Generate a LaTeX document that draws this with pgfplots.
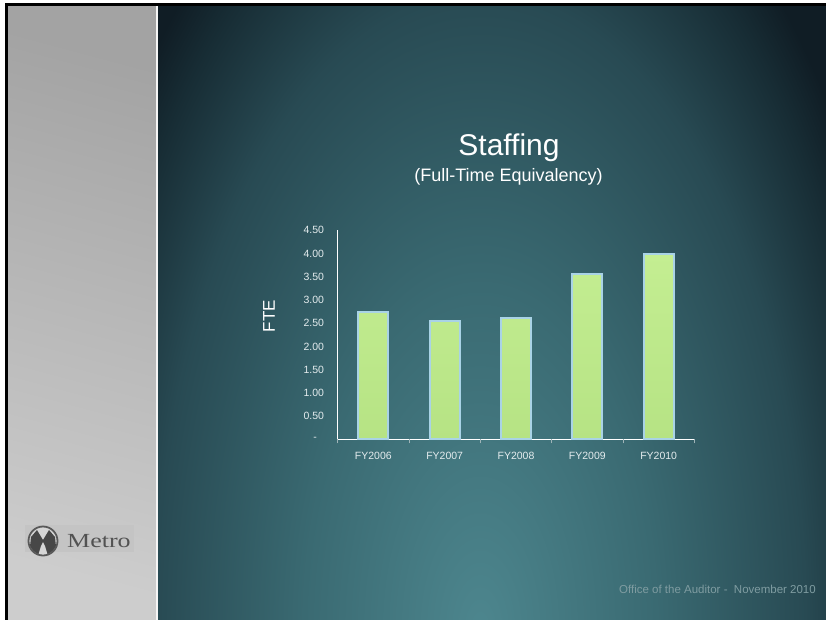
\documentclass[border=0pt]{standalone}
\usepackage{pgfplots}
\pgfplotsset{compat=1.18}
\usepackage{fontspec}
\setmainfont{Liberation Sans}
\newfontfamily\metrofont{Liberation Serif}

\definecolor{glow0}{HTML}{4D868E}
\definecolor{glow1}{HTML}{3A6A72}
\definecolor{glow2}{HTML}{284A53}
\definecolor{glow3}{HTML}{172C34}
\definecolor{glow4}{HTML}{101D25}
\definecolor{greyA}{HTML}{A3A3A3}
\definecolor{greyB}{HTML}{CDCDCD}
\definecolor{tickcol}{HTML}{E4ECEE}
\definecolor{footcol}{HTML}{7F9CA1}
\definecolor{barfill}{HTML}{C4EE92}
\definecolor{barfillD}{HTML}{B6E384}
\definecolor{baredge}{HTML}{A9D3E6}
\definecolor{sepcol}{HTML}{9FB4B8}

\pgfdeclareradialshading{bgglow}{\pgfpoint{0bp}{0bp}}{color(0bp)=(glow0); color(10bp)=(glow1); color(18.5bp)=(glow2); color(23bp)=(glow3); color(25bp)=(glow4); color(50bp)=(glow4)}

\pgfplotstableread{
x val
0 2.75
1 2.55
2 2.62
3 3.57
4 4.00
}\fte

\begin{document}
\begin{tikzpicture}
\useasboundingbox (0,0) rectangle (826bp,-620bp);
\clip (0,0) rectangle (826bp,-620bp);
% slide frame
\fill[white] (0,0) rectangle (826bp,-620bp);
\fill[black] (5bp,-3bp) rectangle (826bp,-620bp);
% left grey panel
\shade[top color=greyA, bottom color=greyB, shading angle=-15] (8bp,-6bp) rectangle (156bp,-620bp);
\fill[white!92!gray] (156bp,-6bp) rectangle (158bp,-620bp);
% dark panel with glow
\fill[glow4] (158bp,-6bp) rectangle (826bp,-620bp);
\begin{scope}
\clip (158bp,-6bp) rectangle (826bp,-620bp);
\shade[shading=bgglow] (480bp,-630bp) ellipse [x radius=440bp, y radius=860bp];
\end{scope}
% Metro logo
\fill[black!23] (25bp,-525bp) rectangle (134bp,-552bp);
\fill[black!16] (43bp,-541bp) circle (15bp);
\begin{scope}
\clip (43bp,-541bp) circle (14bp);
\fill[black!72] (29bp,-556bp) -- (31bp,-537bp) -- (37bp,-530bp) -- (43bp,-540bp) -- (49bp,-530bp) -- (55bp,-537bp) -- (57bp,-556bp) -- cycle;
\fill[black!16] (38bp,-556bp) -- (41bp,-546bp) -- (43bp,-542bp) -- (45bp,-546bp) -- (48bp,-556bp) -- cycle;
\end{scope}
\draw[black!65, line width=1.8bp] (43bp,-541bp) circle (14.5bp);
\node[anchor=base west, inner sep=0pt, text=black!68] at (67bp,-547bp)
  {\scalebox{1.3}[1]{\metrofont\fontsize{20bp}{24bp}\selectfont Metro}};
% titles
\node[anchor=base, inner sep=0pt, text=white] at (509bp,-155bp)
  {\fontsize{30bp}{36bp}\selectfont Staffing};
\node[anchor=base, inner sep=0pt, text=white] at (508.5bp,-181bp)
  {\fontsize{18bp}{22bp}\selectfont (Full-Time Equivalency)};
\node[rotate=90, inner sep=0pt, text=white] at (269bp,-316bp)
  {\fontsize{17bp}{20bp}\selectfont FTE};
% footer
\node[anchor=base east, inner sep=0pt, text=footcol] at (816bp,-593bp)
  {\fontsize{11.5bp}{14bp}\selectfont Office of the Auditor -\ \ November 2010};
% chart
\begin{axis}[
  at={(337.7bp,-439.3bp)}, anchor=south west,
  scale only axis, width=356.6bp, height=209bp,
  xmin=-0.5, xmax=4.5, ymin=0, ymax=4.5,
  axis lines*=left,
  axis line style={white, line width=1.2bp},
  xtick={0,1,2,3,4},
  xticklabels={FY2006,FY2007,FY2008,FY2009,FY2010},
  ytick={0,0.5,1,1.5,2,2.5,3,3.5,4,4.5},
  yticklabels={\makebox[18bp][c]{-},0.50,1.00,1.50,2.00,2.50,3.00,3.50,4.00,4.50},
  major tick length=0pt,
  extra x ticks={-0.5,0.5,1.5,2.5,3.5,4.5},
  extra x tick labels={},
  extra x tick style={major tick length=4bp, tick align=outside, tick style={sepcol, line width=0.6bp}},
  ticklabel style={font=\fontsize{10.5bp}{12bp}\selectfont, text=tickcol, inner sep=0pt},
  yticklabel style={anchor=east, xshift=-13.5bp},
  xticklabel style={anchor=north, yshift=-13bp},
  clip=false,
]
\addplot[ybar, bar width=30bp, bar shift=0pt, draw=baredge, line width=2bp,
  top color=barfill, bottom color=barfillD] table[x=x, y=val] {\fte};
\end{axis}
\end{tikzpicture}
\end{document}
